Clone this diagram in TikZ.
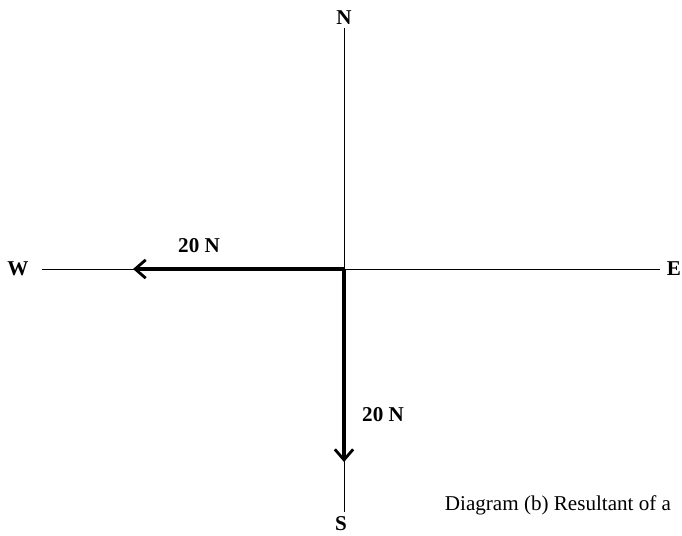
\documentclass[tikz,border=0pt]{standalone}
\usepackage{fontspec}
\setmainfont{Liberation Serif}
\usetikzlibrary{arrows.meta}

\begin{document}
\begin{tikzpicture}[x=0.025cm, y=-0.025cm,
  axis/.style={line width=0.7pt, black},
  force/.style={line width=2.4pt, black, -{Straight Barb[length=7.5pt, width=13pt, line width=2pt]}},
  compass/.style={font=\fontsize{15}{17}\selectfont\bfseries, inner sep=1pt},
  lbl/.style={font=\fontsize{15}{17}\selectfont\bfseries, inner sep=1pt}]
  \useasboundingbox (0,0) rectangle (682,535);

  % compass axes
  \coordinate (O) at (344, 269);
  \coordinate (ntop) at (344, 28);
  \coordinate (sbot) at (344, 512);
  \coordinate (wend) at (42, 269);
  \coordinate (eend) at (660, 269);
  \node[compass] (N) at (344, 18) {N};
  \node[compass] (S) at (341, 524) {S};
  \node[compass] (W) at (18, 269) {W};
  \node[compass] (E) at (674, 269) {E};
  \draw[axis] (ntop) -- (sbot);
  \draw[axis] (wend) -- (eend);

  % the two forces
  \coordinate (wtip) at (133, 269);
  \coordinate (stip) at (344, 462);
  \draw[force] (O) -- (wtip);
  \draw[force] (O) -- (stip);
  \node[lbl] (fw) at (199, 246) {20 N};
  \node[lbl] (fs) at (383, 415) {20 N};

  % caption
  \node[font=\fontsize{15}{17}\selectfont, inner sep=0pt] (cap) at (558, 505) {Diagram (b) Resultant of a};
\end{tikzpicture}
\end{document}
